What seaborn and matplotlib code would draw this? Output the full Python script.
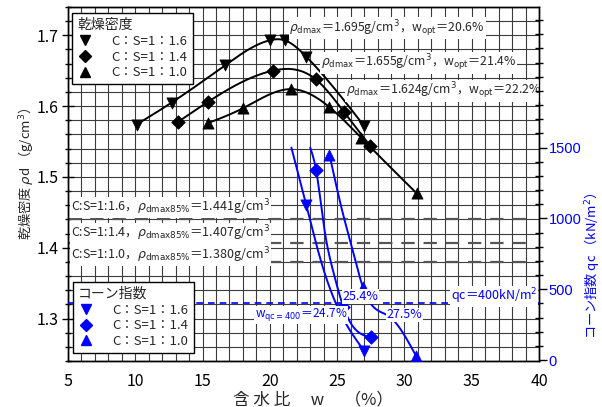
import numpy as np
import matplotlib
matplotlib.use("Agg")
import matplotlib.pyplot as plt
from matplotlib.lines import Line2D
from matplotlib.ticker import MultipleLocator, FixedLocator, FormatStrFormatter
import seaborn as sns

# ---- dry density (compaction) data ----
w_16 = [10.1, 12.7, 16.7, 20.0, 21.1, 22.7, 27.0]
rho_16 = [1.574, 1.605, 1.658, 1.693, 1.693, 1.670, 1.572]
w_14 = [13.2, 15.4, 20.2, 23.4, 25.5, 27.45]
rho_14 = [1.578, 1.606, 1.650, 1.638, 1.592, 1.544]
w_10 = [15.4, 18.0, 21.6, 24.4, 26.8, 30.9]
rho_10 = [1.576, 1.597, 1.624, 1.599, 1.555, 1.477]

# ---- cone index data (measured points) ----
cw_16 = [22.7, 27.0]
cqc_16 = [1096, 66]
cw_14 = [23.44, 25.47, 27.52]
cqc_14 = [1339, 373, 160]
cw_10 = [24.43, 26.9, 30.87]
cqc_10 = [1450, 518, 28]

# ---- cone index curves (traced, clipped at the top of the qc scale) ----
curve_w_16 = [21.6, 22.7, 23.7, 24.9, 27.0]
curve_qc_16 = [1500, 1096, 731, 401, 66]
curve_w_14 = [23.0, 23.44, 24.06, 24.68, 25.47, 27.52]
curve_qc_14 = [1500, 1339, 919, 636, 373, 160]
curve_w_10 = [24.43, 25.42, 26.28, 26.9, 28.89, 30.87]
curve_qc_10 = [1450, 1037, 731, 518, 306, 28]

# ---- 85% of maximum dry density ----
rho85 = [1.441, 1.407, 1.380]
rho85_labels = [
    r"C:S=1:1.6，$\rho_{\rm dmax85\%}$＝1.441g/cm$^3$",
    r"C:S=1:1.4，$\rho_{\rm dmax85\%}$＝1.407g/cm$^3$",
    r"C:S=1:1.0，$\rho_{\rm dmax85\%}$＝1.380g/cm$^3$",
]
peak_labels = [
    r"$\rho_{\rm dmax}$＝1.695g/cm$^3$，w$_{\rm opt}$＝20.6%",
    r"$\rho_{\rm dmax}$＝1.655g/cm$^3$，w$_{\rm opt}$＝21.4%",
    r"$\rho_{\rm dmax}$＝1.624g/cm$^3$，w$_{\rm opt}$＝22.2%",
]
series_labels = ["C：S=1：1.6", "C：S=1：1.4", "C：S=1：1.0"]
qc_limit = 400
w_limits = [24.7, 25.4, 27.5]


def smooth(xs, ys, n=300):
    """Natural cubic spline through the given vertices (for drawing the line)."""
    x = np.asarray(xs, float)
    y = np.asarray(ys, float)
    k = len(x)
    h = np.diff(x)
    A = np.zeros((k, k))
    b = np.zeros(k)
    A[0, 0] = A[-1, -1] = 1
    for i in range(1, k - 1):
        A[i, i - 1] = h[i - 1]
        A[i, i] = 2 * (h[i - 1] + h[i])
        A[i, i + 1] = h[i]
        b[i] = 3 * ((y[i + 1] - y[i]) / h[i] - (y[i] - y[i - 1]) / h[i - 1])
    c = np.linalg.solve(A, b)
    xx = np.linspace(x[0], x[-1], n)
    idx = np.clip(np.searchsorted(x, xx) - 1, 0, k - 2)
    dx = xx - x[idx]
    bc = (y[1:] - y[:-1]) / h - h * (2 * c[:-1] + c[1:]) / 3
    d = (c[1:] - c[:-1]) / (3 * h)
    yy = y[idx] + bc[idx] * dx + c[idx] * dx ** 2 + d[idx] * dx ** 3
    return xx, yy


sns.set_theme(style="white")
plt.rcParams["font.family"] = ["Noto Sans CJK JP", "DejaVu Sans"]
plt.rcParams["mathtext.fontset"] = "dejavusans"
plt.rcParams["axes.unicode_minus"] = False

fig = plt.figure(figsize=(6.02, 4.07), dpi=100)
ax = fig.add_axes([68 / 602, 46 / 407, 471 / 602, 354 / 407])
ax2 = ax.twinx()

ax.set_xlim(5, 40)
ax.set_ylim(1.24, 1.74)
ax2.set_ylim(-7, 2493)

# grid
ax.xaxis.set_major_locator(MultipleLocator(5))
ax.xaxis.set_minor_locator(MultipleLocator(1))
ax.yaxis.set_major_locator(MultipleLocator(0.1))
ax.yaxis.set_minor_locator(MultipleLocator(0.02))
ax.grid(True, which="both", color="#3c3c3c", lw=0.8)
ax.set_axisbelow(True)
ax.yaxis.set_major_formatter(FormatStrFormatter("%.1f"))

for sp in list(ax.spines.values()) + list(ax2.spines.values()):
    sp.set_color("black")
    sp.set_linewidth(1.0)

ax.tick_params(axis="both", which="major", direction="inout", length=8, width=1,
               colors="black", labelsize=11.5)
ax.tick_params(axis="x", which="major", pad=5)
ax.tick_params(axis="y", which="major", pad=3)
ax.tick_params(axis="both", which="minor", direction="inout", length=5, width=1,
               colors="black")
ax2.yaxis.set_major_locator(FixedLocator([0, 500, 1000, 1500]))
ax2.yaxis.set_minor_locator(MultipleLocator(100))
ax2.tick_params(axis="y", which="major", direction="out", length=6, width=1,
                colors="black", labelcolor="blue", labelsize=10.5, pad=1)
ax2.tick_params(axis="y", which="minor", direction="inout", length=6, width=1,
                colors="black")
for t in ax2.get_yticklabels():
    t.set_family(["Liberation Sans", "DejaVu Sans"])

# 85% density reference lines
for r in rho85:
    ax.plot([5, 39.4], [r, r], color="#555555", lw=1.6, dashes=(6, 4), zorder=2)
for r, lab, dy in zip(rho85, rho85_labels, [0.016, 0.0135, 0.0095]):
    ax.text(5.2, r + dy, lab, fontsize=9, ha="left", va="center", zorder=4,
            bbox=dict(facecolor="white", edgecolor="none", pad=0.6))

# compaction curves
markers = ["v", "D", "^"]
for wx, ry, m in zip([w_16, w_14, w_10], [rho_16, rho_14, rho_10], markers):
    xx, yy = smooth(wx, ry)
    sns.lineplot(x=xx, y=yy, ax=ax, color="black", lw=1.4, sort=False,
                 estimator=None, zorder=5)
    sns.scatterplot(x=wx, y=ry, ax=ax, marker=m, s=65 if m != "D" else 48,
                    color="black", edgecolor="black", linewidth=0.5, zorder=6)

for (x0, y0), lab in zip([(21.45, 1.710), (23.8, 1.661), (25.65, 1.622)], peak_labels):
    ax.text(x0, y0, lab, fontsize=8.8, ha="left", va="center", zorder=7,
            bbox=dict(facecolor="white", edgecolor="none", pad=0.5))

# cone index
ax2.plot([5, 40], [qc_limit, qc_limit], color="blue", lw=1.2, dashes=(4, 3), zorder=3)
for cx, cy, px, py, m in zip([curve_w_16, curve_w_14, curve_w_10],
                             [curve_qc_16, curve_qc_14, curve_qc_10],
                             [cw_16, cw_14, cw_10], [cqc_16, cqc_14, cqc_10], markers):
    xx, yy = smooth(cx, cy)
    sns.lineplot(x=xx, y=yy, ax=ax2, color="blue", lw=1.4, sort=False,
                 estimator=None, zorder=5)
    sns.scatterplot(x=px, y=py, ax=ax2, marker=m, s=65 if m != "D" else 48,
                    color="blue", edgecolor="blue", linewidth=0.5, zorder=6)

tb = dict(facecolor="white", edgecolor="none", pad=0.5)
ax2.text(18.9, 318, r"w$_{\rm qc=400}$＝%.1f%%" % w_limits[0], color="blue",
         fontsize=8.5, ha="left", va="center", bbox=tb, zorder=7)
ax2.text(26.73, 448, "%.1f%%" % w_limits[1], color="blue", fontsize=9,
         ha="center", va="center", bbox=tb, zorder=7)
ax2.text(30.0, 318, "%.1f%%" % w_limits[2], color="blue", fontsize=9,
         ha="center", va="center", bbox=tb, zorder=7)
ax2.text(39.9, 448, r"qc＝400kN/m$^2$", color="blue", fontsize=9,
         ha="right", va="center", bbox=tb, zorder=7)

# axis labels
ax.set_xlabel("含 水 比　 w　 （%）", fontsize=12)
ax.xaxis.set_label_coords(0.52, -0.085)
ax.set_ylabel(r"乾燥密度 $\rho$d （g/cm$^3$）", fontsize=9.5)
ax.yaxis.label.set_va("center")
ax.yaxis.set_label_coords(-0.091, 0.53)
ax2.set_ylabel("コーン指数 qc （kN/m$^2$）", color="blue", fontsize=9.5,
               rotation=90)
ax2.yaxis.label.set_va("center")
ax2.yaxis.set_label_coords(1.112, 0.27)

# legends
def handles(color):
    return [Line2D([], [], ls="none", marker=m, color=color,
                   markersize=7.5 if m != "D" else 6.5) for m in markers]

common = dict(fontsize=9.5, title_fontsize=10, frameon=True, fancybox=False,
              edgecolor="black", framealpha=1, borderpad=0.4, labelspacing=0.2,
              handletextpad=1.4, handlelength=1.2, borderaxespad=0)
leg1 = ax2.legend(handles("black"), series_labels, title="乾燥密度",
                  loc="upper left", bbox_to_anchor=(0.008, 0.983), **common)
leg1._legend_box.align = "left"
leg1.get_frame().set_linewidth(1.0)
ax2.add_artist(leg1)
leg2 = ax2.legend(handles("blue"), series_labels, title="コーン指数",
                  loc="lower left", bbox_to_anchor=(0.01, 0.022), **common)
leg2._legend_box.align = "left"
leg2.get_frame().set_linewidth(1.0)
leg1.set_zorder(20)
leg2.set_zorder(20)

fig.savefig("out.png", dpi=100)
